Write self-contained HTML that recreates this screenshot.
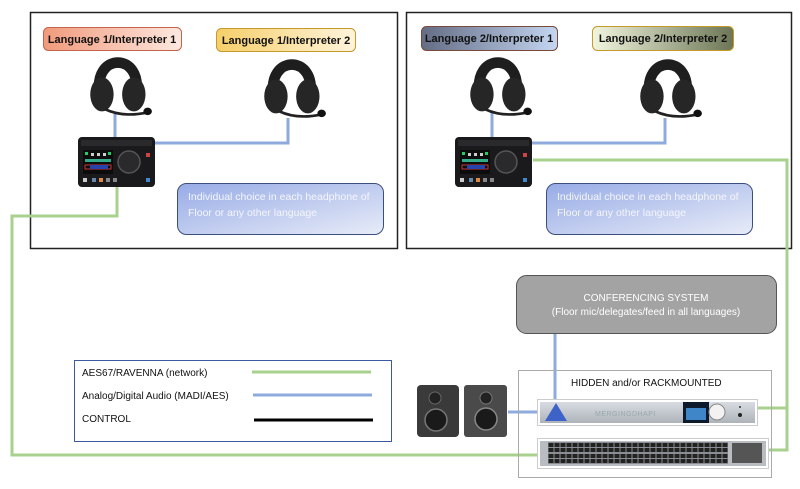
<!DOCTYPE html>
<html><head><meta charset="utf-8"><style>
html,body{margin:0;padding:0;background:#fff;}
svg{display:block;font-family:"Liberation Sans",sans-serif;}
</style></head><body>
<svg width="800" height="489" viewBox="0 0 800 489" xmlns="http://www.w3.org/2000/svg">
<defs>
<linearGradient id="g1" x1="0" x2="1"><stop offset="0" stop-color="#f19a7c"/><stop offset="1" stop-color="#fde8df"/></linearGradient>
<linearGradient id="g2" x1="0" x2="1"><stop offset="0" stop-color="#f6cf6a"/><stop offset="1" stop-color="#fff4dc"/></linearGradient>
<linearGradient id="g3" x1="0" x2="1"><stop offset="0" stop-color="#646c84"/><stop offset="1" stop-color="#c4d6f2"/></linearGradient>
<linearGradient id="g4" x1="0" x2="1"><stop offset="0" stop-color="#f1f5de"/><stop offset="1" stop-color="#6c7656"/></linearGradient>
<linearGradient id="gb" x1="0" y1="0" x2="1" y2="1"><stop offset="0" stop-color="#97abe6"/><stop offset="1" stop-color="#e8ecf8"/></linearGradient>
<linearGradient id="gm" x1="0" y1="0" x2="0" y2="1"><stop offset="0" stop-color="#d8dce2"/><stop offset="1" stop-color="#aeb3ba"/></linearGradient>
<symbol id="hp" viewBox="0 0 64 64">
<path d="M13 38 C6 -2, 54 -2, 47 38" fill="none" stroke="#1e1e1e" stroke-width="10"/>
<ellipse cx="15" cy="38" rx="11" ry="16" fill="#262626"/>
<ellipse cx="45" cy="38" rx="11" ry="16" fill="#262626"/>
<path d="M18 52 Q35 60 58 55" fill="none" stroke="#222" stroke-width="2.5"/>
<ellipse cx="58" cy="54" rx="4" ry="3.5" fill="#111"/>
</symbol>
<symbol id="dev" viewBox="0 0 77 50">
<rect x="0" y="0" width="77" height="50" rx="4" fill="#1a1a1c"/>
<rect x="3" y="3" width="71" height="6" fill="#2a2a2c"/>
<rect x="5" y="13" width="30" height="24" fill="#0c0c0c"/>
<rect x="7" y="15" width="3" height="3" fill="#2c6"/><rect x="13" y="16" width="3" height="3" fill="#ccc"/><rect x="19" y="16" width="3" height="3" fill="#ccc"/><rect x="25" y="16" width="3" height="3" fill="#ccc"/><rect x="30" y="15" width="3" height="3" fill="#2c6"/>
<rect x="7" y="22" width="26" height="3" fill="#3a8"/>
<rect x="7" y="28" width="26" height="4" fill="none" stroke="#c33" stroke-width="1"/>
<rect x="12" y="28" width="18" height="4" fill="#2844aa"/>
<circle cx="51" cy="25" r="11" fill="#2a2a2c" stroke="#555" stroke-width="1.5"/>
<rect x="68" y="16" width="4" height="4" fill="#c44"/>
<rect x="5" y="41" width="4" height="4" fill="#ccc"/><rect x="14" y="41" width="4" height="4" fill="#68a"/><rect x="21" y="41" width="4" height="4" fill="#d84"/><rect x="28" y="41" width="4" height="4" fill="#888"/><rect x="35" y="41" width="4" height="4" fill="#888"/><rect x="68" y="41" width="4" height="4" fill="#48c"/>
</symbol>
<pattern id="ports" x="548" y="442" width="6" height="11" patternUnits="userSpaceOnUse">
<rect width="6" height="11" fill="#8a8e92"/>
<rect x="0.5" y="1" width="5" height="4" fill="#222"/><rect x="0.5" y="6" width="5" height="4" fill="#222"/>
</pattern>
</defs>

<rect x="30.5" y="12.5" width="367" height="236" fill="none" stroke="#222" stroke-width="1.5"/>
<rect x="406.5" y="12.5" width="385" height="236" fill="none" stroke="#222" stroke-width="1.5"/>

<g fill="none" stroke="#a9d18e" stroke-width="3">
<polyline points="117,187 117,216 12,216 12,455 548,455"/>
<polyline points="533,160 787,160 787,450 757,450"/>
<line x1="787" y1="408" x2="753" y2="408"/>
</g>
<g fill="none" stroke="#8faadc" stroke-width="3">
<line x1="115" y1="112" x2="115" y2="137"/>
<polyline points="155,143 288,143 288,118"/>
<line x1="492" y1="112" x2="492" y2="137"/>
<polyline points="532,143 665,143 665,118"/>
<line x1="555" y1="333" x2="555" y2="400"/>
<line x1="508" y1="412" x2="537" y2="412"/>
</g>

<g font-size="11" font-weight="bold" fill="#111" text-anchor="middle">
<rect x="43.5" y="27.5" width="138" height="23" rx="5" fill="url(#g1)" stroke="#c4644a"/>
<text x="112" y="43">Language 1/Interpreter 1</text>
<rect x="216.5" y="28.5" width="139" height="23" rx="5" fill="url(#g2)" stroke="#c49a2a"/>
<text x="286" y="44">Language 1/Interpreter  2</text>
<rect x="421.5" y="26.5" width="136" height="24" rx="5" fill="url(#g3)" stroke="#7a4a3a"/>
<text x="489" y="42">Language 2/Interpreter 1</text>
<rect x="592.5" y="26.5" width="141" height="24" rx="5" fill="url(#g4)" stroke="#c49a2a"/>
<text x="663" y="42">Language 2/Interpreter  2</text>
</g>

<use href="#hp" x="86" y="54" width="68" height="68"/>
<use href="#hp" x="260" y="56" width="68" height="68"/>
<use href="#hp" x="466" y="54" width="68" height="68"/>
<use href="#hp" x="636" y="56" width="68" height="68"/>
<use href="#dev" x="78" y="137" width="77" height="50"/>
<use href="#dev" x="455" y="137" width="77" height="50"/>

<g font-size="10.5" fill="#f4f6fc">
<rect x="177.5" y="183.5" width="206" height="51" rx="9" fill="url(#gb)" stroke="#3b4f7c"/>
<text x="188" y="200">Individual choice in each headphone of</text>
<text x="188" y="216">Floor or any other language</text>
<rect x="546.5" y="183.5" width="206" height="51" rx="9" fill="url(#gb)" stroke="#3b4f7c"/>
<text x="557" y="200">Individual choice in each headphone of</text>
<text x="557" y="216">Floor or any other language</text>
</g>

<rect x="516.5" y="275.5" width="260" height="58" rx="10" fill="#a3a3a3" stroke="#555"/>
<g font-size="10" fill="#fff" text-anchor="middle">
<text x="646" y="301">CONFERENCING SYSTEM</text>
<text x="646" y="315">(Floor mic/delegates/feed in all languages)</text>
</g>

<rect x="518.5" y="370.5" width="253" height="107" fill="none" stroke="#aaa"/>
<text x="571" y="386" font-size="10" fill="#111">HIDDEN and/or RACKMOUNTED</text>
<rect x="537.5" y="399.5" width="220" height="26" fill="#fff" stroke="#ccc"/>
<rect x="540" y="402" width="215" height="21" fill="url(#gm)"/>
<polygon points="545,421 556,403 567,421" fill="#3e63c8"/>
<text x="595" y="416" font-size="7" fill="#9aa" letter-spacing="0.5">MERGINGDHAPI</text>
<rect x="683" y="402" width="26" height="21" fill="#0c1a2c"/>
<rect x="686" y="408" width="20" height="12" fill="#3f86c8"/>
<circle cx="717" cy="412" r="8" fill="#f2f2f2" stroke="#888"/>
<circle cx="740" cy="407" r="1" fill="#333"/><circle cx="740" cy="415" r="2" fill="#222"/>
<rect x="537.5" y="438.5" width="231" height="30" fill="#fff" stroke="#ccc"/>
<rect x="540" y="441" width="226" height="25" fill="#b9bcc0"/>
<rect x="548" y="442" width="180" height="22" fill="url(#ports)"/>
<rect x="732" y="443" width="30" height="20" fill="#555"/>
<rect x="417" y="385" width="42" height="52" rx="4" fill="#3a3a3a"/>
<circle cx="435" cy="398" r="6" fill="#222" stroke="#666"/>
<circle cx="436" cy="420" r="11" fill="#1a1a1a" stroke="#777" stroke-width="1.5"/>
<rect x="464" y="385" width="43" height="52" rx="3" fill="#4a4a4a"/>
<circle cx="486" cy="398" r="6" fill="#222" stroke="#777"/>
<circle cx="486" cy="419" r="11" fill="#1a1a1a" stroke="#888" stroke-width="1.5"/>

<rect x="74.5" y="360.5" width="317" height="81" fill="#fff" stroke="#3b5aa0"/>
<g font-size="10" fill="#111">
<text x="82" y="376">AES67/RAVENNA (network)</text>
<text x="82" y="399">Analog/Digital Audio (MADI/AES)</text>
<text x="82" y="422">CONTROL</text>
</g>
<line x1="252" y1="372" x2="371" y2="372" stroke="#a9d18e" stroke-width="3"/>
<line x1="253" y1="395" x2="372" y2="395" stroke="#8faadc" stroke-width="3"/>
<line x1="254" y1="420" x2="373" y2="420" stroke="#000" stroke-width="3"/>
</svg>
</body></html>
